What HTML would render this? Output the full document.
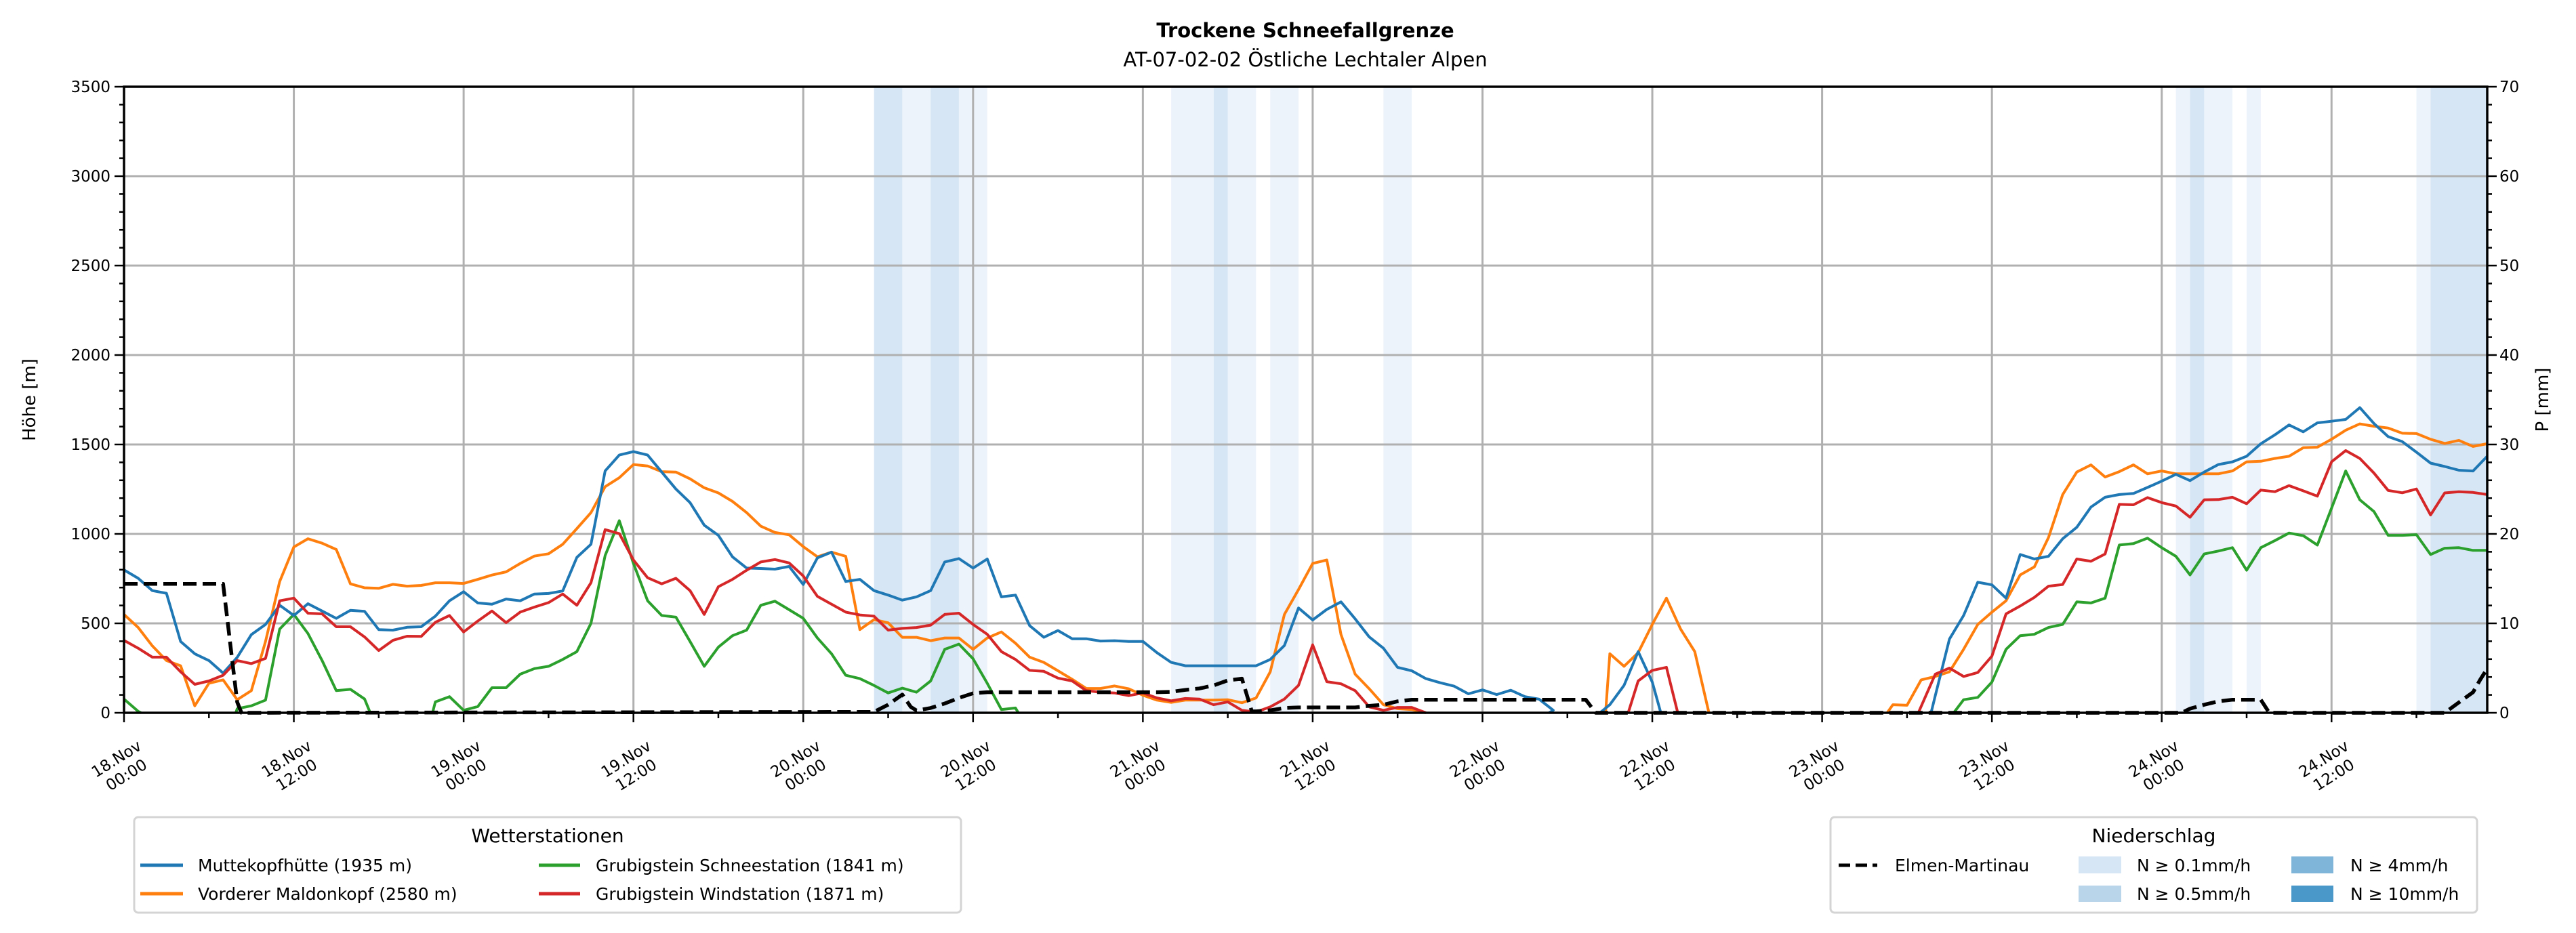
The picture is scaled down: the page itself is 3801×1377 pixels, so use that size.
<!DOCTYPE html>
<html><head><meta charset="utf-8">
<style>
html,body{margin:0;padding:0;background:#fff;}
svg{display:block;font-family:"DejaVu Sans","Liberation Sans",sans-serif;}
</style></head>
<body>
<svg id="s" width="3801" height="1377" viewBox="0 0 3801 1377" xmlns="http://www.w3.org/2000/svg">
<rect width="3801" height="1377" fill="#fff"/>
<g id="bands"></g>
<g id="grid" stroke="#b0b0b0" stroke-width="3"></g>
<g id="series" fill="none" stroke-linejoin="round"></g>
<g id="ticks" stroke="#000" stroke-width="2.5"></g>
<rect x="183" y="128" width="3487" height="924" fill="none" stroke="#000" stroke-width="3.5"/>

<text x="1926" y="55" text-anchor="middle" font-size="29" font-weight="bold">Trockene Schneefallgrenze</text>
<text x="1926" y="98" text-anchor="middle" font-size="29">AT-07-02-02 Östliche Lechtaler Alpen</text>

<g font-size="23" text-anchor="end">
<text x="163" y="1060">0</text><text x="163" y="928">500</text><text x="163" y="796">1000</text><text x="163" y="664">1500</text>
<text x="163" y="532">2000</text><text x="163" y="400">2500</text><text x="163" y="268">3000</text><text x="163" y="136">3500</text>
</g>
<g font-size="23" text-anchor="start">
<text x="3688" y="1060">0</text><text x="3688" y="928">10</text><text x="3688" y="796">20</text><text x="3688" y="664">30</text>
<text x="3688" y="532">40</text><text x="3688" y="400">50</text><text x="3688" y="268">60</text><text x="3688" y="136">70</text>
</g>
<text transform="translate(52,590) rotate(-90)" text-anchor="middle" font-size="26">Höhe [m]</text>
<text transform="translate(3760,590) rotate(-90)" text-anchor="middle" font-size="26">P [mm]</text>

<g font-size="23" text-anchor="middle">
<g transform="translate(178,1130) rotate(-32)"><text y="-4">18.Nov</text><text y="24">00:00</text></g>
<g transform="translate(429,1130) rotate(-32)"><text y="-4">18.Nov</text><text y="24">12:00</text></g>
<g transform="translate(679,1130) rotate(-32)"><text y="-4">19.Nov</text><text y="24">00:00</text></g>
<g transform="translate(930,1130) rotate(-32)"><text y="-4">19.Nov</text><text y="24">12:00</text></g>
<g transform="translate(1180,1130) rotate(-32)"><text y="-4">20.Nov</text><text y="24">00:00</text></g>
<g transform="translate(1431,1130) rotate(-32)"><text y="-4">20.Nov</text><text y="24">12:00</text></g>
<g transform="translate(1681,1130) rotate(-32)"><text y="-4">21.Nov</text><text y="24">00:00</text></g>
<g transform="translate(1932,1130) rotate(-32)"><text y="-4">21.Nov</text><text y="24">12:00</text></g>
<g transform="translate(2182,1130) rotate(-32)"><text y="-4">22.Nov</text><text y="24">00:00</text></g>
<g transform="translate(2433,1130) rotate(-32)"><text y="-4">22.Nov</text><text y="24">12:00</text></g>
<g transform="translate(2683,1130) rotate(-32)"><text y="-4">23.Nov</text><text y="24">00:00</text></g>
<g transform="translate(2934,1130) rotate(-32)"><text y="-4">23.Nov</text><text y="24">12:00</text></g>
<g transform="translate(3184,1130) rotate(-32)"><text y="-4">24.Nov</text><text y="24">00:00</text></g>
<g transform="translate(3435,1130) rotate(-32)"><text y="-4">24.Nov</text><text y="24">12:00</text></g>
</g>

<!-- Legend 1 -->
<rect x="198" y="1206" width="1220" height="141" rx="6" fill="#fff" stroke="#d4d4d4" stroke-width="3"/>
<text x="808" y="1243" text-anchor="middle" font-size="28">Wetterstationen</text>
<line x1="207" y1="1277" x2="270" y2="1277" stroke="#1f77b4" stroke-width="5"/>
<line x1="207" y1="1319" x2="270" y2="1319" stroke="#ff7f0e" stroke-width="5"/>
<line x1="795" y1="1277" x2="856" y2="1277" stroke="#2ca02c" stroke-width="5"/>
<line x1="795" y1="1319" x2="856" y2="1319" stroke="#d62728" stroke-width="5"/>
<g font-size="25">
<text x="292" y="1286">Muttekopfhütte (1935 m)</text>
<text x="292" y="1328">Vorderer Maldonkopf (2580 m)</text>
<text x="879" y="1286">Grubigstein Schneestation (1841 m)</text>
<text x="879" y="1328">Grubigstein Windstation (1871 m)</text>
</g>

<!-- Legend 2 -->
<rect x="2701" y="1206" width="954" height="141" rx="6" fill="#fff" stroke="#d4d4d4" stroke-width="3"/>
<text x="3178" y="1243" text-anchor="middle" font-size="28">Niederschlag</text>
<line x1="2713" y1="1277" x2="2770" y2="1277" stroke="#000" stroke-width="5" stroke-dasharray="17 8"/>
<rect x="3067" y="1264" width="63" height="25" fill="#d6e6f4"/>
<rect x="3067" y="1307" width="63" height="24" fill="#b9d5ea"/>
<rect x="3381" y="1264" width="62" height="25" fill="#7fb5d8"/>
<rect x="3381" y="1307" width="62" height="24" fill="#4a97c9"/>
<g font-size="25">
<text x="2796" y="1286">Elmen-Martinau</text>
<text x="3153" y="1286">N ≥ 0.1mm/h</text>
<text x="3153" y="1328">N ≥ 0.5mm/h</text>
<text x="3468" y="1286">N ≥ 4mm/h</text>
<text x="3468" y="1328">N ≥ 10mm/h</text>
</g>
</svg>
<script>
(function(){
var NS="http://www.w3.org/2000/svg";
function X(h){return 183+20.88*h;}
function Y(v){return 1052-0.264*v;}
function el(p,n,a){var e=document.createElementNS(NS,n);for(var k in a)e.setAttribute(k,a[k]);document.getElementById(p).appendChild(e);return e;}
// bands
var med=[[53,55],[57,59],[77,78],[146,147],[163,167]];
var lig=[[55,57],[59,61],[74,77],[78,80],[81,83],[89,91],[145,146],[147,149],[150,151],[162,163]];
lig.forEach(function(b){el("bands","rect",{x:X(b[0]),y:128,width:X(b[1])-X(b[0]),height:924,fill:"#edf3fb"});});
med.forEach(function(b){el("bands","rect",{x:X(b[0]),y:128,width:X(b[1])-X(b[0]),height:924,fill:"#d6e6f4"});});
// grid
for(var i=1;i<=13;i++){var x=X(12*i);el("grid","line",{x1:x,y1:128,x2:x,y2:1052});}
for(var j=1;j<=6;j++){var y=Y(500*j);el("grid","line",{x1:183,y1:y,x2:3670,y2:y});}
// ticks
for(var i=0;i<=27;i++){var x=X(6*i);var L=(i%2==0)?14:8;el("ticks","line",{x1:x,y1:1052,x2:x,y2:1052+L});}
for(var v=0;v<=3500;v+=100){var y=Y(v);var L=(v%500==0)?14:7;el("ticks","line",{x1:183-L,y1:y,x2:183,y2:y});el("ticks","line",{x1:3670,y1:y,x2:3670+L,y2:y});}
function seq(h0,arr){return arr.map(function(v,i){return [h0+i,v];});}
function draw(segs,col,w,dash){segs.forEach(function(s){var p=s.map(function(q){return X(q[0]).toFixed(1)+","+Y(q[1]).toFixed(1);}).join(" ");var a={points:p,stroke:col,"stroke-width":w};if(dash)a["stroke-dasharray"]=dash;el("series","polyline",a);});}
var blue=[
 seq(0,[799,752,683,668,399,330,292,222,310,437,494,601,544,610,569,528,573,567,465,462,478,481,540,626,677,614,607,636,626,664,667,681,869,942,1352,1441,1460,1441,1346,1251,1175,1049,992,
 872,809,807,803,818,717,866,898,734,746,683,658,630,648,683,843,862,809,860,648,658,487,422,460,414,414,401,403,399,399,336,282,263,263,263,263,263,263,298,376,586,519,
 578,620,525,424,361,254,235,191,168,149,106,128,102,126,90,76,14]).concat([[100.7,0]]),
 [[104.3,0],[105,45],[106,153],[107,342],[108,172],[108.6,0]],
 [[127.7,0]].concat(seq(128,[96,412,544,730,715,641,885,860,875,973,1037,1150,1205,1220,1226,1260,1295,1333,1298,1346,1388,1403,1434,1504,1554,1609,1571,1621,1630,1640,1706,1617,1544,1516,1457,1396,1377,1356,1352,1434]))
];
var orange=[
 seq(0,[550,477,374,292,263,39,165,184,73,124,399,734,927,973,948,913,721,699,696,718,708,712,727,727,723,746,770,788,835,876,889,942,1030,1119,1264,1314,1388,1380,1348,1346,1308,1258,1229,
 1182,1119,1043,1008,995,929,872,898,875,465,521,503,422,422,403,418,418,355,418,452,389,311,282,235,187,136,136,150,134,98,71,58,71,71,71,73,56,83,229,550,689,835,854,437,216,134,45,23,18,0]),
 [[104.7,0],[105,330],[106,260],[107,336],[108,494],[109,641],[110,468],[111,342],[112,0]],
 [[124.6,0],[125,45],[126,42]].concat(seq(127,[184,203,229,355,494,563,626,771,816,980,1220,1346,1386,1318,1348,1386,1336,1352,1336,1336,1336,1336,1352,1403,1406,1422,1434,1482,1485,1529,1580,1615,1602,1592,1563,1561,1529,1506,1523,1489,1504]))
];
var red=[
 seq(0,[405,361,311,311,229,159,178,210,292,275,304,626,641,557,553,481,481,424,348,405,428,427,506,544,452,513,569,504,563,591,616,664,601,727,1024,1002,854,755,721,752,683,550,705,
 746,797,843,857,838,765,651,607,563,547,540,462,472,477,490,550,557,494,439,342,298,237,232,194,178,124,115,111,96,111,83,67,80,77,45,61,14,4,33,77,153,380,174,162,124,33,14,30,30,0]),
 [[106.3,0],[107,178],[108,237],[109,254],[109.8,0]],
 [[126.8,0]].concat(seq(128,[216,250,203,225,317,553,597,645,708,717,860,847,888,1165,1163,1203,1175,1156,1093,1191,1192,1205,1169,1245,1236,1270,1241,1211,1403,1466,1422,1340,1243,1230,1251,1106,1229,1236,1232,1220]))
];
var green=[
 [[0,77],[1,8],[1.2,0]],
 [[7.9,0]].concat(seq(8,[23,39,71,468,550,443,292,124,131,77])).concat([[17.4,0]]),
 [[21.8,0]].concat(seq(22,[61,90,14,35,140,140,216,247,260,298,342,500,879,1074,835,626,544,535,399,260,367,431,462,601,624,576,528,418,330,210,191,153,111,138,115,178,355,384,302,165,18,27])).concat([[63.2,0]]),
 [[129.3,0]].concat(seq(130,[73,86,172,355,431,439,477,494,620,614,641,938,946,976,923,875,771,888,904,923,797,923,963,1005,990,938,1144,1352,1191,1125,992,992,996,885,920,923,908,908]))
];
var black=[[[0,721],[7,721],[8,60],[8.3,0],[53,5],[54,45],[55,102],[55.6,33],[56,13],[57,27],[58,52],[59,83],[60,109],[61,115],[73,115],[74,117],[75,128],[76,136],[77,153],[78,181],[79,191],[79.7,8],[80,8],[81,14],[82,27],[83,30],[87,30],[88,39],[89,45],[90,64],[91,73],[103.3,73],[104,0],[145.4,0],[146,23],[147,45],[148,64],[149,73],[151,73],[151.6,0],[164,0],[165,58],[166,115],[166.5,184],[167,247]]];
draw(green,"#2ca02c",4);
draw(orange,"#ff7f0e",4);
draw(blue,"#1f77b4",4);
draw(red,"#d62728",4);
draw(black,"#000",5.5,"20 9");
})();
</script>
</body></html>
